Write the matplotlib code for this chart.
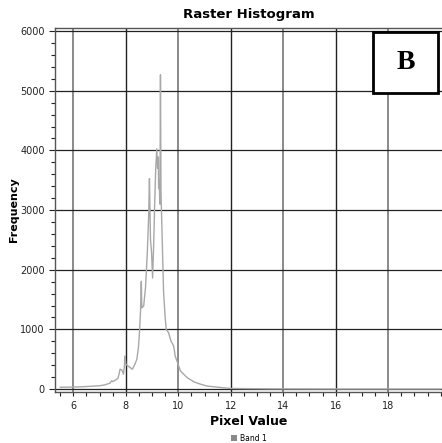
import numpy as np
import matplotlib
matplotlib.use("Agg")
import matplotlib.pyplot as plt
from matplotlib.patches import Rectangle
from matplotlib.ticker import MultipleLocator, FixedLocator

# histogram (pixel value, frequency)
pixel_value = [5.5, 5.8, 6.0, 6.3, 6.6, 7.0, 7.2, 7.4, 7.46, 7.5, 7.6, 7.7, 7.74, 7.78,
               7.85, 7.91, 7.95, 7.97, 8.0, 8.1, 8.25, 8.35, 8.42, 8.48, 8.52, 8.56,
               8.59, 8.61, 8.65, 8.68, 8.75, 8.82, 8.87, 8.90, 8.92, 8.94, 8.98, 9.02,
               9.06, 9.10, 9.14, 9.18, 9.21, 9.24, 9.25, 9.27, 9.30, 9.32, 9.34, 9.38,
               9.44, 9.50, 9.54, 9.63, 9.72, 9.78, 9.82, 9.85, 9.88, 9.97, 10.08,
               10.33, 10.6, 10.84, 11.1, 11.35, 11.7, 12.0, 12.5, 13.0, 13.5, 14.0,
               15.0, 16.0, 17.0, 18.0, 19.0, 20.0]
frequency = [30, 32, 34, 38, 45, 56, 70, 100, 139, 125, 150, 180, 250, 333,
             320, 250, 400, 555, 417, 380, 333, 420, 500, 700, 944, 1300,
             1806, 1361, 1380, 1390, 1700, 2300, 2900, 3528, 3000, 2500, 2300, 1861,
             2400, 3111, 3700, 4028, 3700, 3890, 3360, 3500, 3100, 5267, 3300, 2611,
             1611, 1200, 1000, 944, 805, 760, 722, 650, 555, 444, 305,
             194, 120, 83, 50, 39, 22, 11, 8, 6, 4, 3,
             2, 1, 1, 1, 1, 1]

x_labels = [6, 8, 10, 12, 14, 16, 18]

fig = plt.figure(figsize=(4.42, 4.43), dpi=100)
ax = fig.add_axes([0.1244, 0.115, 0.8756, 0.8216])

ax.plot(pixel_value, frequency, color="#a8a8a8", linewidth=1.0, zorder=3)

ax.set_xlim(5.3, 20.05)
ax.set_ylim(-50, 6050)

ax.xaxis.set_major_locator(FixedLocator(x_labels))
ax.xaxis.set_minor_locator(MultipleLocator(0.5))
ax.yaxis.set_major_locator(MultipleLocator(1000))
ax.yaxis.set_minor_locator(MultipleLocator(200))
ax.tick_params(axis="both", which="major", labelsize=7, length=4, width=0.8, colors="#222222")
ax.tick_params(axis="both", which="minor", length=3, width=0.8, colors="#222222")
ax.tick_params(axis="x", which="major", length=3)

for i, xv in enumerate(x_labels):
    if i % 2 == 0:
        ax.axvline(xv, color="#8a8a8a", linewidth=1.4, zorder=1)
    else:
        ax.axvline(xv, color="#222222", linewidth=1.0, zorder=1)
for yv in range(0, 7000, 1000):
    ax.axhline(yv, color="#222222", linewidth=0.9, zorder=1)

for s in ["left", "bottom", "top"]:
    ax.spines[s].set_color("#555555")
    ax.spines[s].set_linewidth(1.0)
ax.spines["right"].set_visible(False)

ax.set_title("Raster Histogram", fontsize=9.5, fontweight="bold", pad=7)
ax.set_xlabel("Pixel Value", fontsize=9, fontweight="bold", labelpad=3)
ax.set_ylabel("Frequency", fontsize=8, fontweight="bold", labelpad=1)

# legend
fig.patches.append(Rectangle((0.523, 0.0045), 0.0135, 0.0135, transform=fig.transFigure,
                             facecolor="#888888", edgecolor="none"))
fig.text(0.542, 0.011, "Band 1", fontsize=5.5, va="center", ha="left")

# panel letter
fig.patches.append(Rectangle((0.845, 0.79), 0.145, 0.138, transform=fig.transFigure,
                             facecolor="white", edgecolor="black", linewidth=2, zorder=5))
fig.text(0.9175, 0.859, "B", fontsize=20, fontweight="bold", family="Liberation Serif",
         ha="center", va="center", zorder=6)

fig.savefig("out.png", dpi=100)
